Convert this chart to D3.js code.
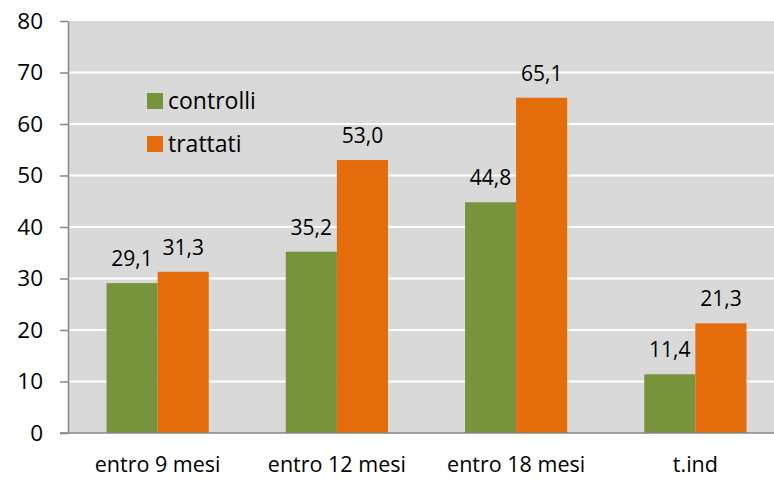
<!DOCTYPE html>
<html>
<head>
<meta charset="utf-8">
<script src="https://cdn.jsdelivr.net/npm/d3@7"></script>
<style>
body { margin: 0; background: #fff; }
text { font-family: "Open Sans", sans-serif; fill: #000; }
</style>
</head>
<body>
<div id="graph"></div>
<script>
var width = 774
var height = 479

var categories = ["entro 9 mesi", "entro 12 mesi", "entro 18 mesi", "t.ind"];
var series = ["controlli", "trattati"];
var controlli = [29.1, 35.2, 44.8, 11.4];
var trattati = [31.3, 53.0, 65.1, 21.3];
var yTicks = [0, 10, 20, 30, 40, 50, 60, 70, 80];

var colors = { controlli: "#77933c", trattati: "#e46c0a" };

var plotLeft = 68, plotRight = 785, plotTop = 21, plotBottom = 433;
var font = "'Open Sans', sans-serif";

var svg = d3.select("#graph")
	.append("svg")
	.attr("width", width)
	.attr("height", height);

var x = d3.scaleBand()
	.domain(categories)
	.range([plotLeft, plotRight])
	.paddingInner(0.43)
	.paddingOuter(0.215);

var xs = d3.scaleBand()
	.domain(series)
	.range([0, x.bandwidth()]);

var y = d3.scaleLinear()
	.domain([0, 80])
	.range([plotBottom, plotTop]);

// background
svg.append("rect")
	.attr("x", plotLeft)
	.attr("y", plotTop)
	.attr("width", plotRight - plotLeft)
	.attr("height", plotBottom - plotTop)
	.attr("fill", "#d9d9d9");

// gridlines
svg.append("g")
	.selectAll("line")
	.data(yTicks.slice(1, -1))
	.enter()
	.append("line")
	.attr("x1", plotLeft)
	.attr("x2", plotRight)
	.attr("y1", (d) => y(d))
	.attr("y2", (d) => y(d))
	.attr("stroke", "#fff")
	.attr("stroke-width", 2);

var data = categories.map((c, i) => ({ cat: c, values: [
	{ key: "controlli", value: controlli[i] },
	{ key: "trattati", value: trattati[i] }
] }));

var group = svg.append("g")
	.selectAll("g")
	.data(data)
	.enter()
	.append("g")
	.attr("transform", (d) => "translate(" + x(d.cat) + ",0)");

group.selectAll("rect")
	.data((d) => d.values)
	.enter()
	.append("rect")
	.attr("x", (d) => xs(d.key))
	.attr("y", (d) => y(d.value))
	.attr("width", xs.bandwidth())
	.attr("height", (d) => y(0) - y(d.value))
	.attr("fill", (d) => colors[d.key]);

group.selectAll("text")
	.data((d) => d.values)
	.enter()
	.append("text")
	.attr("x", (d) => xs(d.key) + xs.bandwidth() / 2)
	.attr("y", (d) => y(d.value) - 17)
	.attr("text-anchor", "middle")
	.style("font-size", "21px")
	.text((d) => d.value.toFixed(1).replace(".", ","));

// y axis
var yAxis = svg.append("g")
	.attr("transform", "translate(" + plotLeft + ",0)")
	.call(d3.axisLeft(y).tickValues(yTicks).tickSize(8).tickSizeOuter(0).tickPadding(17));
yAxis.select(".domain").attr("stroke", "#868686").attr("stroke-width", 1.5);
yAxis.selectAll(".tick line").attr("stroke", "#868686").attr("stroke-width", 1.5);
yAxis.selectAll(".tick text").style("font-size", "22.5px").style("font-family", font).attr("fill", "#000");

// x axis
var xAxis = svg.append("g")
	.attr("transform", "translate(0," + plotBottom + ")")
	.call(d3.axisBottom(x).tickSize(0).tickPadding(24));
xAxis.select(".domain").remove();
svg.append("line")
	.attr("x1", plotLeft - 8)
	.attr("x2", plotRight)
	.attr("y1", plotBottom)
	.attr("y2", plotBottom)
	.attr("stroke", "#868686")
	.attr("stroke-width", 1.5);
xAxis.selectAll(".tick text").style("font-size", "21.5px").style("font-family", font).attr("fill", "#000");

// legend
var legend = svg.append("g")
	.selectAll("g")
	.data(series)
	.enter()
	.append("g")
	.attr("transform", (d, i) => "translate(147," + (93 + i * 43) + ")");

legend.append("rect")
	.attr("width", 16)
	.attr("height", 16)
	.attr("fill", (d) => colors[d]);

legend.append("text")
	.attr("x", 21)
	.attr("y", 16)
	.style("font-size", "23px")
	.text((d) => d);
</script>
</body>
</html>
